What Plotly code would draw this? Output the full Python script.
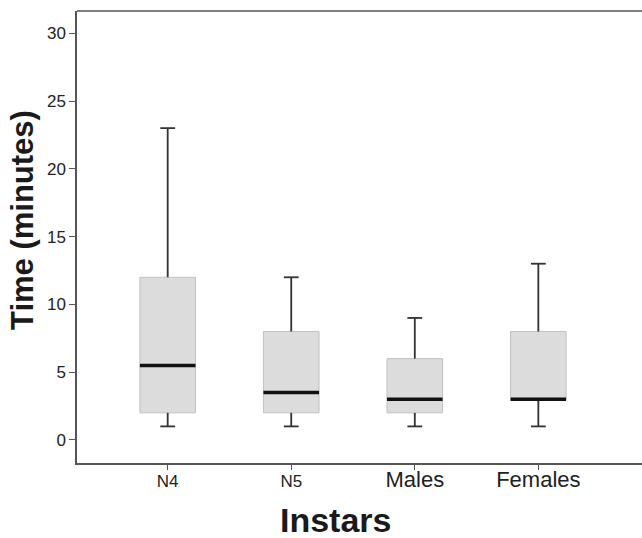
import plotly.graph_objects as go

categories = ["N4", "N5", "Males", "Females"]
lower = [1, 1, 1, 1]
q1 = [2, 2, 2, 3]
median = [5.5, 3.5, 3, 3]
q3 = [12, 8, 6, 8]
upper = [23, 12, 9, 13]
tick_sizes = [17, 17, 22, 22]
y_ticks = [0, 5, 10, 15, 20, 25, 30]

FONT = "Arial, Liberation Sans, sans-serif"
xpos = list(range(len(categories)))
BOX_W = 0.45
CAP = 0.06

W, H = 642, 538
L, T, B = 77, 11, 75
PW, PH = W - L, H - T - B

fig = go.Figure()
fig.add_trace(go.Box(
    x=xpos, q1=q1, median=median, q3=q3, lowerfence=lower, upperfence=upper,
    width=BOX_W, whiskerwidth=0, fillcolor="#dcdcdc",
    line=dict(color="#c2c2c2", width=1), hoverinfo="skip", showlegend=False,
))

wx, wy = [], []
for i, (lo, a, b, hi) in enumerate(zip(lower, q1, q3, upper)):
    wx += [i, i, None, i - CAP, i + CAP, None, i, i, None, i - CAP, i + CAP, None]
    wy += [b, hi, None, hi, hi, None, a, lo, None, lo, lo, None]
fig.add_trace(go.Scatter(x=wx, y=wy, mode="lines", line=dict(color="#333333", width=1.8),
                         hoverinfo="skip", showlegend=False))

mx, my = [], []
for i, m in enumerate(median):
    mx += [i - BOX_W / 2, i + BOX_W / 2, None]
    my += [m, m, None]
fig.add_trace(go.Scatter(x=mx, y=my, mode="lines", line=dict(color="#111111", width=3.5),
                         hoverinfo="skip", showlegend=False))

ticktext = [f"<span style='font-size:{s}px'>{c}</span>" for c, s in zip(categories, tick_sizes)]

# pixel positions of title centres
ytitle_x, ytitle_y = 22, 220
xtitle_x, xtitle_y = 335.5, 520

fig.update_layout(
    width=W, height=H,
    margin=dict(l=L, r=0, t=T, b=B),
    paper_bgcolor="white", plot_bgcolor="white",
    font=dict(family=FONT, color="#222222"),
    xaxis=dict(range=[-0.734, 3.839], tickvals=xpos, ticktext=ticktext,
               showline=True, linecolor="#555555", linewidth=1.5,
               ticks="outside", ticklen=5, tickwidth=1.2, tickcolor="#555555",
               ticklabelstandoff=-3,
               showgrid=False, zeroline=False, tickfont=dict(size=17, family=FONT, color="#222222")),
    yaxis=dict(range=[-1.70, 31.64], tickvals=y_ticks,
               showline=True, linecolor="#555555", linewidth=1.5,
               ticks="outside", ticklen=6, tickwidth=1.2, tickcolor="#555555",
               showgrid=False, zeroline=False, tickfont=dict(size=17, family=FONT, color="#222222")),
    shapes=[dict(type="line", xref="paper", yref="paper", x0=0, x1=1, y0=1, y1=1,
                 line=dict(color="#555555", width=1.5))],
    annotations=[
        dict(text="<b>Time (minutes)</b>", textangle=-90, xref="paper", yref="paper",
             x=(ytitle_x - L) / PW, y=(T + PH - ytitle_y) / PH,
             xanchor="center", yanchor="middle", showarrow=False,
             font=dict(size=31, family=FONT, color="#1a1a1a")),
        dict(text="<b>Instars</b>", xref="paper", yref="paper",
             x=(xtitle_x - L) / PW, y=(T + PH - xtitle_y) / PH,
             xanchor="center", yanchor="middle", showarrow=False,
             font=dict(size=34, family=FONT, color="#1a1a1a")),
    ],
)

fig.write_html(
    "out.html",
    config={"displayModeBar": False},
    post_script="document.body.style.margin='0';document.body.style.overflow='hidden';",
)
